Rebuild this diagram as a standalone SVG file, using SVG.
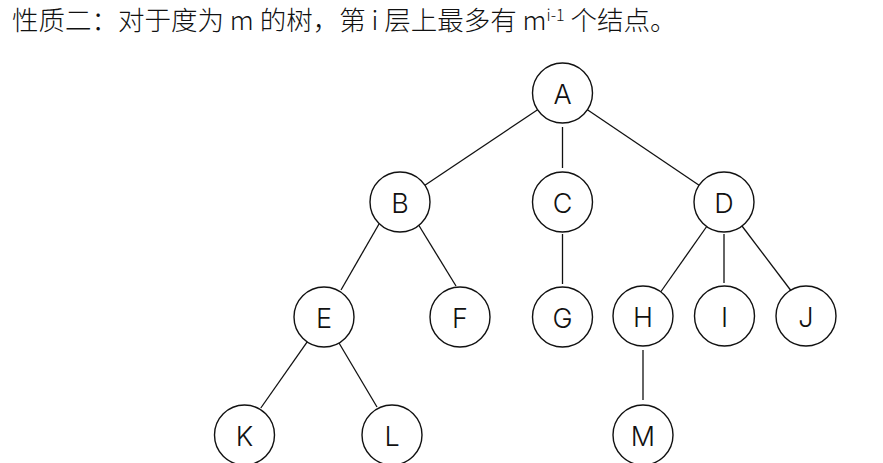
<svg xmlns="http://www.w3.org/2000/svg" width="883" height="463" viewBox="0 0 883 463">
<style>
.t{font-family:"Noto Sans CJK SC","Noto Sans",sans-serif;font-size:26.5px;font-weight:300;fill:#111}
.n circle{fill:#fff;stroke:#111;stroke-width:1.4}
.n text{font-family:Inter,"Liberation Sans",Arial,sans-serif;font-weight:300;font-size:27px;fill:#111;text-anchor:middle;dominant-baseline:central}
#edges line{stroke:#111;stroke-width:1.3}
</style>
<rect width="883" height="463" fill="#fff"/>
<text class="t" x="12" y="30">性质二：对于度为 m 的树，第 i 层上最多有 m<tspan font-size="16" dy="-9">i-1</tspan><tspan dy="9"> 个结点。</tspan></text>
<g id="edges">
<line x1="537.6" y1="109.7" x2="424.9" y2="185.3"/>
<line x1="562.5" y1="127" x2="562.5" y2="168"/>
<line x1="587.4" y1="109.8" x2="699.1" y2="185.2"/>
<line x1="379" y1="224" x2="341" y2="290"/>
<line x1="418" y1="224" x2="456" y2="286"/>
<line x1="562.5" y1="234" x2="562.5" y2="284"/>
<line x1="706.7" y1="226.5" x2="660.3" y2="292.5"/>
<line x1="724" y1="234" x2="724" y2="283"/>
<line x1="742" y1="226" x2="792" y2="292"/>
<line x1="307.2" y1="341.8" x2="260.8" y2="408"/>
<line x1="339" y1="343" x2="377" y2="407"/>
<line x1="643" y1="350" x2="643" y2="400"/>
</g>
<g id="A" class="n"><circle cx="562.5" cy="93" r="30"/><text x="562.5" y="94">A</text></g>
<g id="B" class="n"><circle cx="400" cy="202" r="30"/><text x="400" y="203">B</text></g>
<g id="C" class="n"><circle cx="562.5" cy="202" r="30"/><text x="562.5" y="203">C</text></g>
<g id="D" class="n"><circle cx="724" cy="202" r="30"/><text x="724" y="203">D</text></g>
<g id="E" class="n"><circle cx="324" cy="317" r="30"/><text x="324" y="318">E</text></g>
<g id="F" class="n"><circle cx="460" cy="317" r="30"/><text x="460" y="318">F</text></g>
<g id="G" class="n"><circle cx="562.5" cy="317" r="30"/><text x="562.5" y="318">G</text></g>
<g id="H" class="n"><circle cx="643" cy="316" r="30"/><text x="643" y="317">H</text></g>
<g id="I" class="n"><circle cx="724.5" cy="316" r="30"/><text x="724.5" y="317">I</text></g>
<g id="J" class="n"><circle cx="806" cy="316" r="30"/><text x="806" y="317">J</text></g>
<g id="K" class="n"><circle cx="244.5" cy="435" r="30"/><text x="244.5" y="436">K</text></g>
<g id="L" class="n"><circle cx="392" cy="435" r="30"/><text x="392" y="436">L</text></g>
<g id="M" class="n"><circle cx="643" cy="435" r="30"/><text x="643" y="436">M</text></g>
</svg>
